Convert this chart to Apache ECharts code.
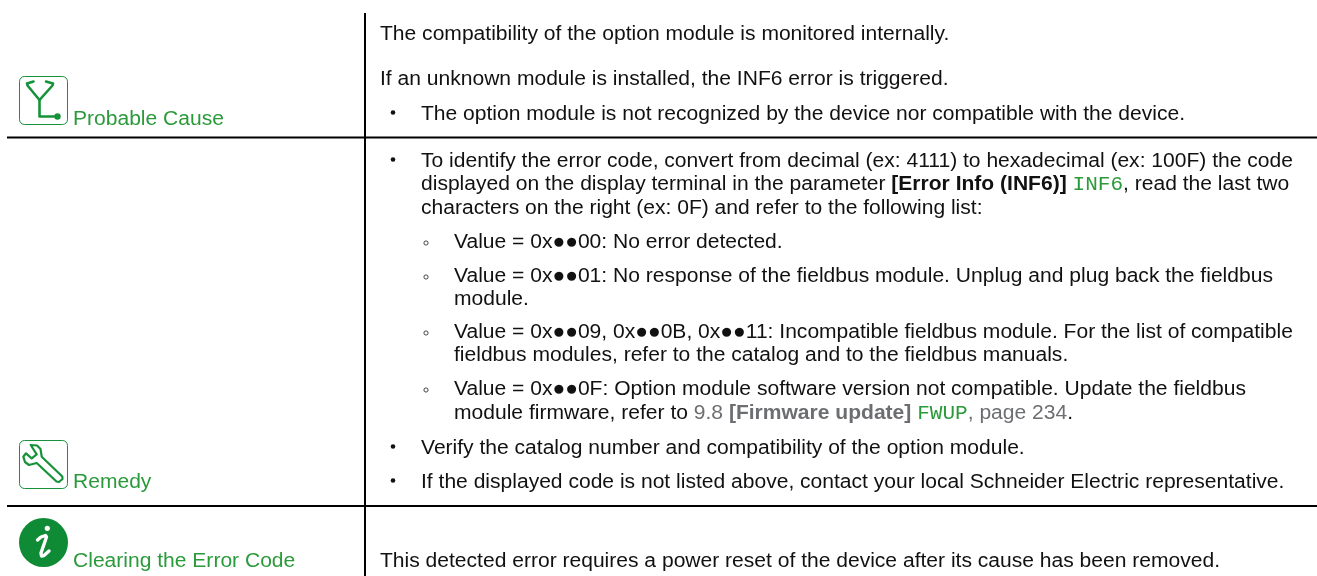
<!DOCTYPE html>
<html>
<head>
<meta charset="utf-8">
<style>html,body{margin:0;padding:0;background:#fff}#main{width:1317px;height:576px}</style>
<script src="https://cdn.jsdelivr.net/npm/echarts@6/dist/echarts.min.js"></script>
</head>
<body>
<div id="main"></div>
<script>
// row labels on the left
const rowLabels = ['Probable Cause', 'Remedy', 'Clearing the Error Code'];

// right column, paragraphs
const causeLines = [
  'The compatibility of the option module is monitored internally.',
  'If an unknown module is installed, the INF6 error is triggered.'
];
const bulletLines = [
  'The option module is not recognized by the device nor compatible with the device.',
  'To identify the error code, convert from decimal (ex: 4111) to hexadecimal (ex: 100F) the code',
  'displayed on the display terminal in the parameter {b|[Error Info (INF6)]} {m|INF6}, read the last two',
  'characters on the right (ex: 0F) and refer to the following list:',
  'Verify the catalog number and compatibility of the option module.',
  'If the displayed code is not listed above, contact your local Schneider Electric representative.'
];
const subLines = [
  'Value = 0x●●00: No error detected.',
  'Value = 0x●●01: No response of the fieldbus module. Unplug and plug back the fieldbus',
  'module.',
  'Value = 0x●●09, 0x●●0B, 0x●●11: Incompatible fieldbus module. For the list of compatible',
  'fieldbus modules, refer to the catalog and to the fieldbus manuals.',
  'Value = 0x●●0F: Option module software version not compatible. Update the fieldbus',
  'module firmware, refer to {g|9.8} {gb|[Firmware update]} {m|FWUP}{g|, page 234}.'
];
const clearLine = 'This detected error requires a power reset of the device after its cause has been removed.';

const GREEN = '#2b9a3a';
const ICON = '#16933a';
const BODY_FONT = 21.05;
const rich = {
  b: { fontFamily: 'Liberation Sans', fontWeight: 'bold', fontSize: BODY_FONT, fill: '#111' },
  gb: { fontFamily: 'Liberation Sans', fontWeight: 'bold', fontSize: BODY_FONT, fill: '#6d6e71' },
  g: { fontFamily: 'Liberation Sans', fontSize: BODY_FONT, fill: '#6d6e71' },
  m: { fontFamily: 'Liberation Mono', fontSize: BODY_FONT, fill: GREEN }
};

function line(text, x, y) {
  return {
    type: 'text',
    x: x,
    y: y + 1,
    style: {
      text: text,
      fontFamily: 'Liberation Sans',
      fontSize: BODY_FONT,
      fill: '#111',
      verticalAlign: 'middle',
      rich: rich
    }
  };
}
function label(text, x, y) {
  return {
    type: 'text',
    x: x,
    y: y + 1,
    style: { text: text, fontFamily: 'Liberation Sans', fontSize: BODY_FONT, fill: GREEN, verticalAlign: 'middle' }
  };
}
function bullet(x, y) {
  return { type: 'circle', shape: { cx: x, cy: y, r: 2.3 }, style: { fill: '#111' } };
}
function ring(x, y) {
  return { type: 'circle', shape: { cx: x, cy: y, r: 2.1 }, style: { fill: 'none', stroke: '#333', lineWidth: 0.9 } };
}
function rule(x1, y1, x2, y2) {
  return { type: 'line', shape: { x1: x1, y1: y1, x2: x2, y2: y2 }, style: { stroke: '#000', lineWidth: 2 } };
}
function iconBox(y) {
  return {
    type: 'rect',
    shape: { x: 19.5, y: y, width: 48, height: 48, r: 5 },
    style: { fill: '#fff', stroke: ICON, lineWidth: 1 }
  };
}
function stroke(type, points, w, color) {
  return {
    type: type,
    shape: { points: points },
    style: { fill: 'none', stroke: color || ICON, lineWidth: w, lineJoin: 'round', lineCap: 'round' }
  };
}

const elements = [
  rule(365, 13, 365, 576),
  rule(7, 137.5, 1317, 137.5),
  rule(7, 506, 1317, 506),

  // stethoscope
  iconBox(76.5),
  stroke('polyline', [[33.5, 81.5], [27, 83.5], [27.5, 85.5], [39.5, 100], [52.5, 85.5], [53, 83.5], [46, 81.5]], 2.6),
  stroke('polyline', [[39.5, 100], [39.5, 116.5], [57, 116.5]], 2.6),
  { type: 'circle', shape: { cx: 57.5, cy: 116.5, r: 3.2 }, style: { fill: ICON } },

  // wrench
  iconBox(440.5),
  stroke('polygon', [[30.7, 445], [37, 445.5], [40.5, 449], [41.7, 456.7], [62.3, 476.5], [62.5, 479], [59, 482], [56.5, 481.5], [36.7, 463], [29, 465], [25, 462], [23.3, 456.7], [26, 453.3], [31.7, 458.3], [36.7, 454.3]], 2.2),

  // info
  { type: 'circle', shape: { cx: 43.5, cy: 542.5, r: 24.5 }, style: { fill: '#0f8a35' } },
  stroke('polyline', [[37.5, 540], [41, 537], [45.5, 535.5], [46.5, 537], [41, 553], [41.5, 556], [44, 555.5], [49, 551]], 3.4, '#fff'),
  { type: 'circle', shape: { cx: 47.3, cy: 528.3, r: 2.6 }, style: { fill: '#fff' } },

  label(rowLabels[0], 73, 118),
  label(rowLabels[1], 73, 481),
  label(rowLabels[2], 73, 560),

  line(causeLines[0], 380, 33),
  line(causeLines[1], 380, 78),
  line(clearLine, 380, 560)
];

// bullet rows
const bulletY = [113, 160, 183, 207, 447, 481];
bulletLines.forEach((t, i) => elements.push(line(t, 421, bulletY[i])));
[113, 160, 447, 481].forEach(y => elements.push(bullet(393, y - 0.5)));

// nested rows
const subY = [241, 275, 298, 331, 354, 388, 412];
subLines.forEach((t, i) => elements.push(line(t, 454, subY[i])));
[241, 275, 331, 388].forEach(y => elements.push(ring(426, y + 2)));

const chart = echarts.init(document.getElementById('main'), null, { renderer: 'canvas' });
chart.setOption({
  backgroundColor: '#fff',
  animation: false,
  graphic: { elements: elements }
});
</script>
</body>
</html>
